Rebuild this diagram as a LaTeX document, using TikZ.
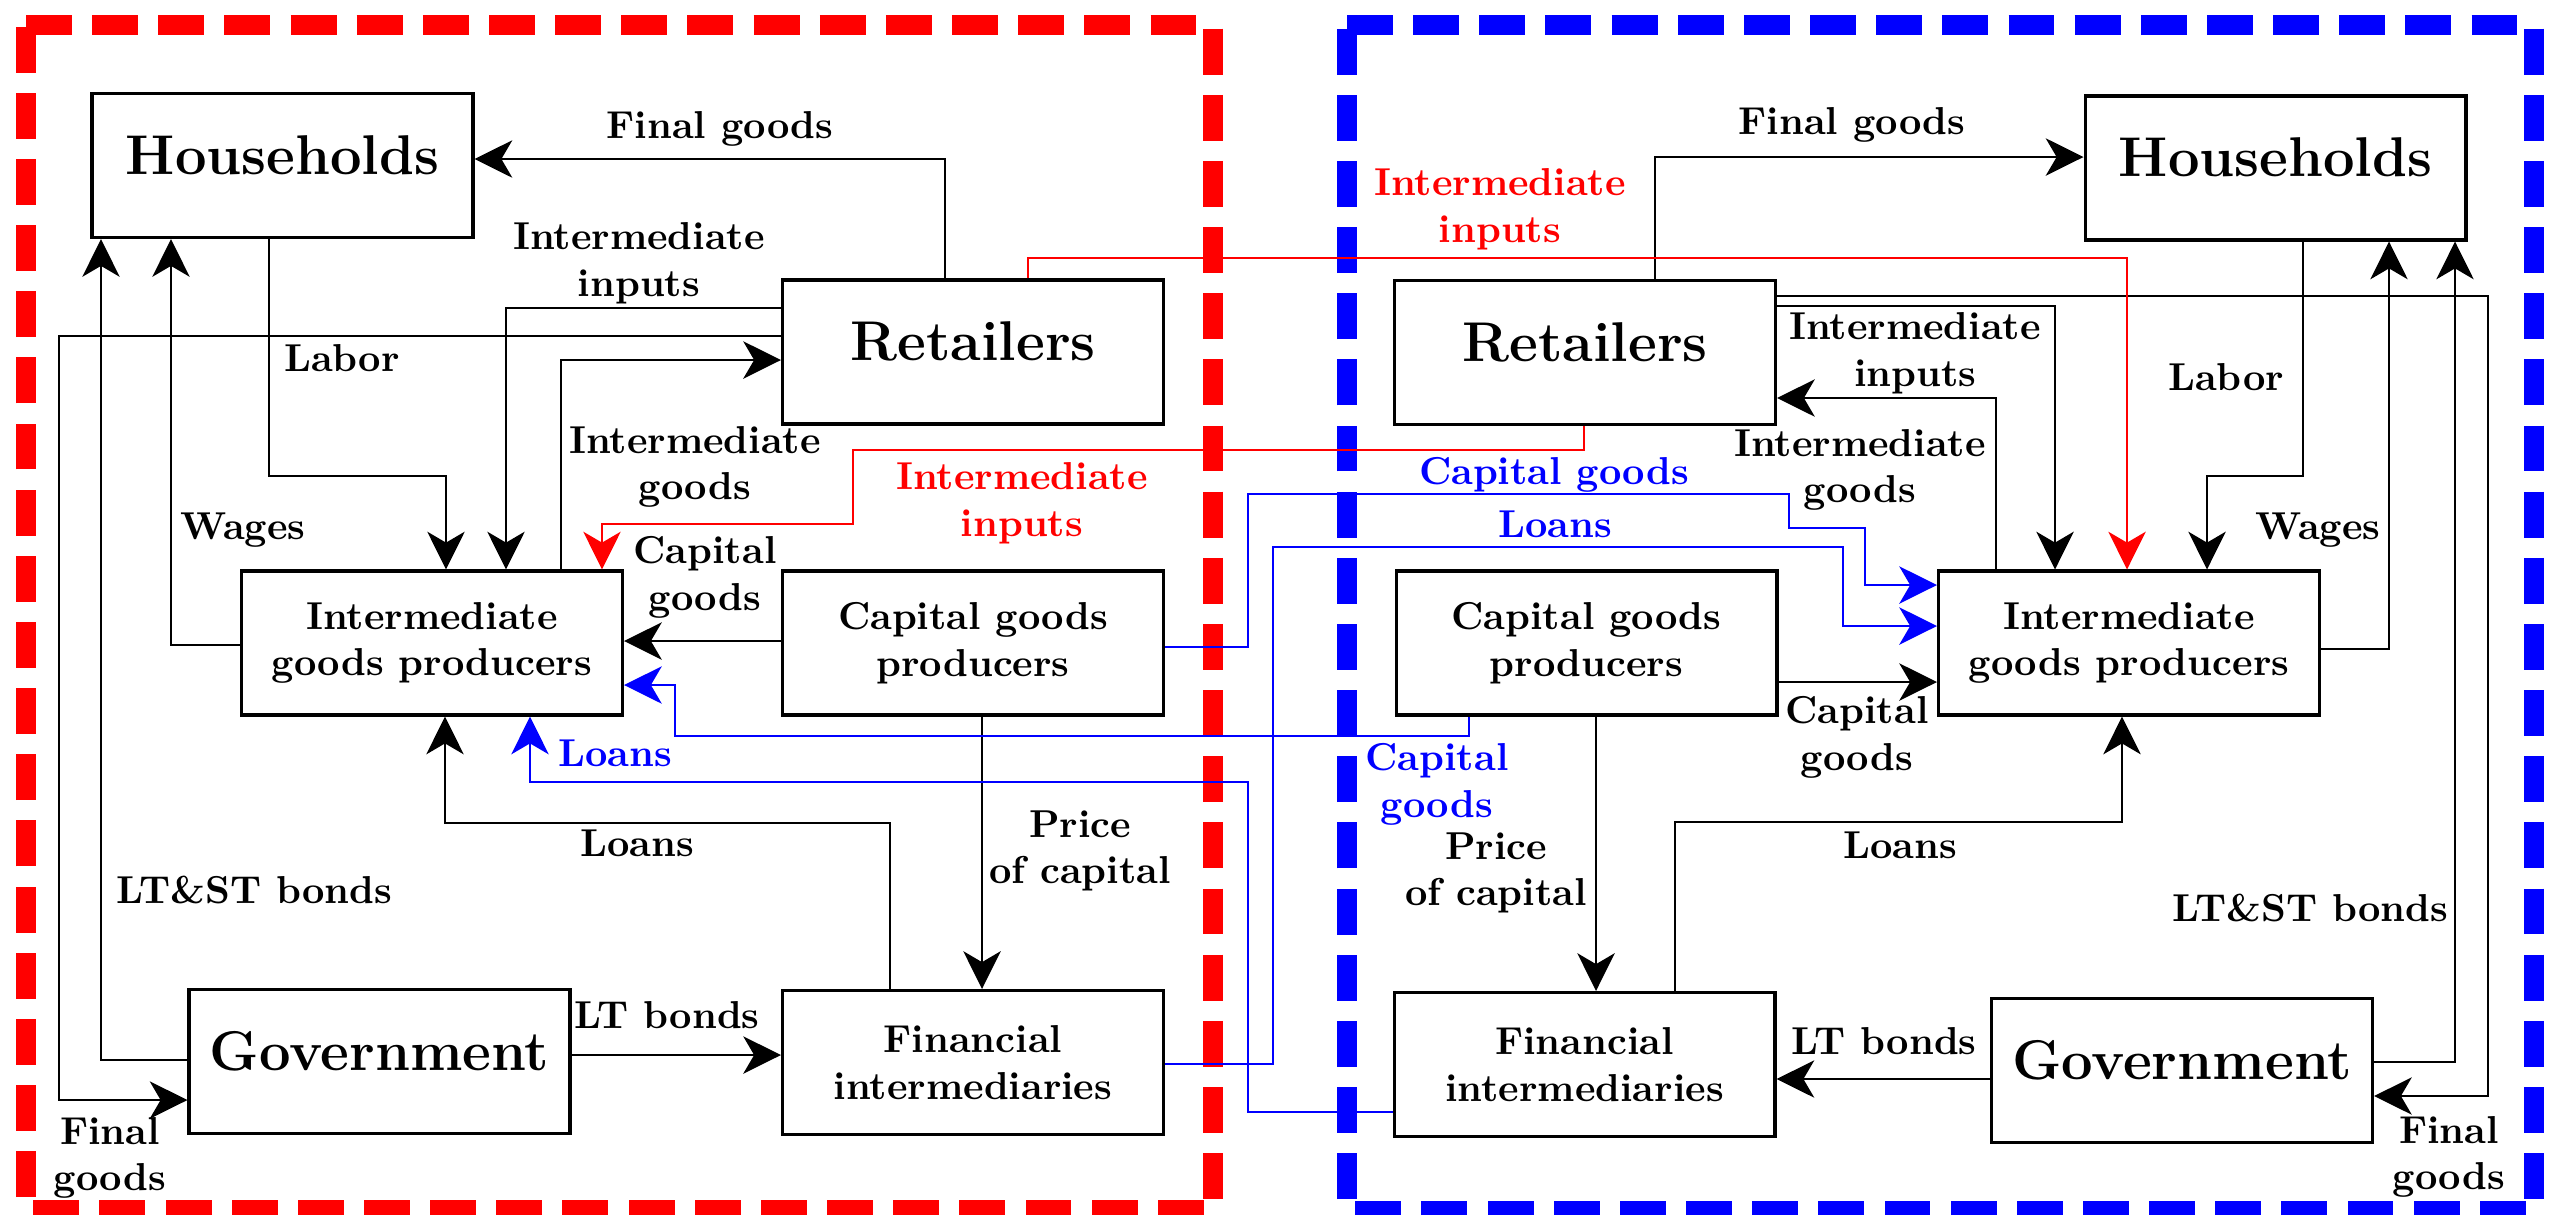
\documentclass[tikz,border=0pt]{standalone}
\usepackage{tikz}
\usetikzlibrary{arrows.meta}
\tikzset{
  sector/.style={draw, line width=.8pt, minimum width=97.9pt,
    minimum height=37pt, align=center, font=\bfseries},
  agent/.style={sector, font=\Large\bfseries, text depth=5.6pt},
  flow/.style={-{Stealth[length=9.7pt,width=9.6pt,inset=2.8pt]},
    line width=.6pt},
  thinflow/.style={flow, line width=.42pt},
  redflow/.style={flow, draw=red, line width=.45pt},
  blueflow/.style={flow, draw=blue, line width=.5pt},
  flowlabel/.style={font=\bfseries, align=center, inner sep=1pt},
  redlabel/.style={flowlabel, text=red},
  bluelabel/.style={flowlabel, text=blue},
  sectorframe/.style={line width=5.1pt, dash pattern=on 11.8pt off 5.2pt}
}
\begin{document}
\begin{tikzpicture}[x=0.257pt,y=-0.257pt]
\useasboundingbox (0,0) rectangle (2552,1214);

% The two economies, each in its own dashed frame.
\draw[sectorframe, draw=red] (26,25) -- (1213,25) -- (1213,1210)
  -- (26,1210) -- cycle;
\draw[sectorframe, draw=blue] (1347,25) -- (2534,25) -- (2534,1211)
  -- (1347,1211) -- cycle;

% Left economy
\node[agent] (hhL) at (282.5,165.5) {Households};
\node[agent] (retL) at (973,352) {Retailers};
\node[sector] (igpL) at (432,643) {Intermediate\\goods producers};
\node[sector] (cgpL) at (973,643) {Capital goods\\producers};
\node[agent] (govL) at (379.5,1061.5) {Government};
\node[sector] (fiL) at (973,1062.5) {Financial\\intermediaries};

% Right economy
\node[agent] (retR) at (1585,352.5) {Retailers};
\node[agent] (hhR) at (2275.5,168) {Households};
\node[sector] (cgpR) at (1586.5,643) {Capital goods\\producers};
\node[sector] (igpR) at (2129,643) {Intermediate\\goods producers};
\node[sector] (fiR) at (1584.5,1064.5) {Financial\\intermediaries};
\node[agent] (govR) at (2182,1070.5) {Government};

% Flows inside the left economy
\draw[flow] (retL.north -| 945,0) |- (hhL.east |- 0,159);
\draw[flow] (hhL.south -| 269,0) |- (446,476) -- (igpL.north -| 446,0);
\draw[flow] (retL.west |- 0,308) -| (igpL.north -| 506,0);
\draw[thinflow] (retL.west |- 0,336) -| (59,1100) -- (govL.west |- 0,1100);
\draw[flow] (igpL.north -| 561,0) |- (retL.west |- 0,360);
\draw[thinflow] (igpL.west |- 0,645) -| (hhL.south -| 171,0);
\draw[thinflow] (govL.west |- 0,1060) -| (hhL.south -| 101,0);
\draw[flow] (cgpL.west |- 0,641) -- (igpL.east |- 0,641);
\draw[flow] (fiL.north -| 890,0) |- (445,823) -- (igpL.south -| 445,0);
\draw[flow] (cgpL.south -| 982,0) -- (fiL.north -| 982,0);
\draw[thinflow] (govL.east |- 0,1055) -- (fiL.west |- 0,1055);

% Flows inside the right economy
\draw[flow] (retR.north -| 1655,0) |- (hhR.west |- 0,157);
\draw[flow] (hhR.south -| 2303,0) |- (2207,476) -- (igpR.north -| 2207,0);
\draw[flow] (retR.east |- 0,306) -| (igpR.north -| 2055,0);
\draw[thinflow] (retR.east |- 0,296) -| (2488,1096) -- (govR.east |- 0,1096);
\draw[flow] (igpR.north -| 1996,0) |- (retR.east |- 0,398);
\draw[thinflow] (igpR.east |- 0,649) -| (hhR.south -| 2389,0);
\draw[thinflow] (govR.east |- 0,1062) -| (hhR.south -| 2455,0);
\draw[flow] (cgpR.east |- 0,682) -- (igpR.west |- 0,682);
\draw[flow] (fiR.north -| 1675,0) |- (2122,822) -- (igpR.south -| 2122,0);
\draw[flow] (cgpR.south -| 1596,0) -- (fiR.north -| 1596,0);
\draw[thinflow] (govR.west |- 0,1079) -- (fiR.east |- 0,1079);

% Trade in intermediate inputs between the two retail sectors
\draw[redflow] (retL.north -| 1028,0) |- (2127,258) -- (igpR.north -| 2127,0);
\draw[redflow] (retR.south -| 1584,0) |- (853,450) |- (602,524)
  -- (igpL.north -| 602,0);

% Cross-border capital goods and loans
\draw[blueflow] (cgpL.east |- 0,647) -| (1248,494) -| (1789,528) -| (1865,585)
  -- (igpR.west |- 0,585);
\draw[blueflow] (fiL.east |- 0,1064) -| (1273,547) -| (1843,626)
  -- (igpR.west |- 0,626);
\draw[blueflow] (cgpR.south -| 1469,0) |- (675,736) |- (igpL.east |- 0,685);
\draw[blueflow] (fiR.west |- 0,1112) -| (1248,782) -| (igpL.south -| 530,0);

% Labels, left economy
\node[flowlabel] (fgL) at (720,129) {Final goods};
\node[flowlabel] (iiL) at (639,263) {Intermediate\\inputs};
\node[flowlabel] (labL) at (342,358) {Labor};
\node[flowlabel] (igL) at (695,467) {Intermediate\\goods};
\node[redlabel] (riiL) at (1022,503) {Intermediate\\inputs};
\node[flowlabel] (wagL) at (243,530) {Wages};
\node[flowlabel] (cgL) at (705,577) {Capital\\goods};
\node[bluelabel] (bloL) at (615,753) {Loans};
\node[flowlabel] (loL) at (637,843) {Loans};
\node[flowlabel] (pkL) at (1080,851) {Price\\of capital};
\node[flowlabel] (bondsL) at (254,890) {LT\&ST bonds};
\node[flowlabel] (ltL) at (667,1015) {LT bonds};
\node[flowlabel] (fggL) at (110,1158) {Final\\goods};

% Labels, right economy
\node[redlabel] (riiR) at (1500,209) {Intermediate\\inputs};
\node[flowlabel] (fgR) at (1852,125) {Final goods};
\node[flowlabel] (iiR) at (1915,353) {Intermediate\\inputs};
\node[flowlabel] (labR) at (2226,377) {Labor};
\node[flowlabel] (igR) at (1860,470) {Intermediate\\goods};
\node[bluelabel] (bcgR) at (1554,475) {Capital goods};
\node[bluelabel] (bloR) at (1555,524) {Loans};
\node[flowlabel] (wagR) at (2318,530) {Wages};
\node[flowlabel] (cgR) at (1857,737) {Capital\\goods};
\node[bluelabel] (bcgL) at (1437,784) {Capital\\goods};
\node[flowlabel] (loR) at (1900,845) {Loans};
\node[flowlabel] (pkR) at (1496,873) {Price\\of capital};
\node[flowlabel] (bondsR) at (2310,908) {LT\&ST bonds};
\node[flowlabel] (ltR) at (1884,1041) {LT bonds};
\node[flowlabel] (fggR) at (2449,1157) {Final\\goods};

\end{tikzpicture}
\end{document}
